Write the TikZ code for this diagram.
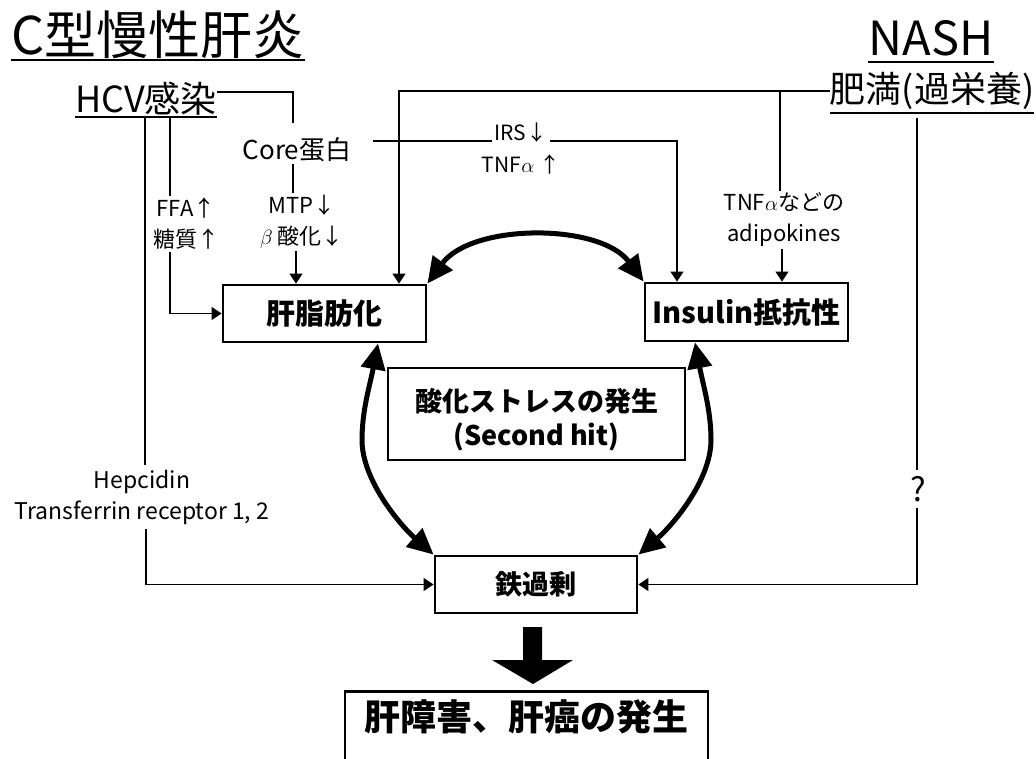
\documentclass[tikz,border=0pt]{standalone}
\usepackage{fontspec}
\setmainfont{Noto Sans CJK JP}
\usetikzlibrary{arrows.meta}
\begin{document}
\begin{tikzpicture}[x=1pt,y=-1pt,
  ln/.style={line width=1.3pt},
  arr/.style={line width=1.3pt,-{Triangle[length=10pt,width=13pt]}},
  bigarc/.style={line width=5pt,{Triangle[length=26pt,width=24pt]}-{Triangle[length=26pt,width=24pt]}},
  lbl/.style={inner sep=2pt,align=center},
  ttl/.style={inner sep=0pt},
  uline/.style={line width=2pt},
  box/.style={draw,line width=2.8pt,inner sep=0pt,align=center,font=\bfseries\fontsize{29}{34}\selectfont},
]
\useasboundingbox (0,0) rectangle (1036,759);
\clip (0,0) rectangle (1036,759);

% titles
\node[ttl,font=\fontsize{52}{60}\selectfont] (title) at (158,35) {C型慢性肝炎};
\draw[uline] (title.west |- 0,60) -- (title.east |- 0,60);
\node[ttl,font=\fontsize{47}{56}\selectfont] (nash) at (931,38) {NASH};
\draw[uline] (nash.west |- 0,62) -- (nash.east |- 0,62);
\node[ttl,font=\fontsize{36}{42}\selectfont] (hcv) at (146,99) {HCV感染};
\draw[uline] (hcv.west |- 0,117) -- (hcv.east |- 0,117);
\node[ttl,font=\fontsize{36}{42}\selectfont] (obese) at (932,91) {肥満(過栄養)};
\draw[uline] (obese.west |- 0,113) -- (obese.east |- 0,113);

% labels
\node[lbl,font=\fontsize{26}{30}\selectfont] (core) at (297,150) {Core蛋白};
\node[lbl,font=\fontsize{21}{25}\selectfont] (irs) at (521,133) {IRS↓};
\node[lbl,font=\fontsize{21}{25}\selectfont] (tnfa) at (521,164) {TNF$\alpha$ ↑};
\node[lbl,font=\fontsize{22}{31}\selectfont] (ffa) at (186,224) {FFA↑\\糖質↑};
\node[lbl,font=\fontsize{22}{31}\selectfont] (mtp) at (302,222) {MTP↓\\$\beta$ 酸化↓};
\node[lbl,font=\fontsize{22}{31}\selectfont] (tnf2) at (784,220) {TNF$\alpha$などの\\adipokines};
\node[lbl,inner ysep=5pt,font=\fontsize{23}{31}\selectfont] (hep) at (142,497) {Hepcidin\\Transferrin receptor 1, 2};
\node[lbl,inner sep=6pt,font=\fontsize{33}{36}\selectfont] (q) at (918,489) {?};

% boxes
\node[box,minimum width=203pt,minimum height=57pt] (liver) at (324.5,313.5) {肝脂肪化};
\node[box,minimum width=203pt,minimum height=58pt] (ins) at (746.5,312) {Insulin抵抗性};
\node[box,minimum width=297pt,minimum height=92pt] (stress) at (536.5,414) {};
\node[lbl,font=\bfseries\fontsize{27}{34}\selectfont] (stresstxt) at (536.5,420) {酸化ストレスの発生\\(Second hit)};
\node[box,minimum width=202pt,minimum height=57pt,font=\bfseries\fontsize{27}{32}\selectfont] (iron) at (536,584.5) {鉄過剰};
\node[box,anchor=north,minimum width=363pt,inner ysep=6pt,text height=33pt,text depth=60pt,font=\bfseries\fontsize{36}{42}\selectfont] (result) at (526.5,690) {肝障害、肝癌の発生};

% thin connectors
\draw[ln] (hcv.east |- 0,92) -| (293,123);
\draw[ln] (core.south -| 293,0) -- (mtp.north -| 293,0);
\draw[arr] (mtp.south -| 296,0) -- (liver.north -| 296,0);
\draw[ln] (373,141) -- (irs.west |- 0,141);
\draw[arr] (irs.east |- 0,141) -| (ins.north -| 677,0);
\draw[arr] (obese.west) -| (liver.north -| 399,0);
\draw[ln] (780,91) -- (tnf2.north -| 780,0);
\draw[arr] (tnf2.south -| 782,0) -- (ins.north -| 782,0);
\draw[ln] (917,118) -- (q.north -| 917,0);
\draw[arr] (q.south -| 917,0) |- (iron.east);
\draw[ln] (145,117) -- (hep.north -| 145,0);
\draw[arr] (hep.south -| 146,0) |- (iron.west);
\draw[ln] (170,117) -- (ffa.north -| 170,0);
\draw[arr] (ffa.south -| 170,0) |- (liver.west);

% thick arcs
\draw[bigarc] (liver.north east) .. controls (472,223) and (600,223) .. (ins.north west);
\draw[bigarc] (liver.south -| 378,0) .. controls (370,385) and (362,410) .. (362,440)
   .. controls (362,480) and (400,525) .. (iron.north west);
\draw[bigarc] (ins.south -| 695,0) .. controls (703,385) and (711,410) .. (711,440)
   .. controls (711,480) and (673,525) .. (iron.north east);

% big down arrow
\fill (523,627) -- (542,627) -- (542,660) -- (573,660) -- (533,684) -- (492,660) -- (523,660) -- cycle;
\end{tikzpicture}
\end{document}
